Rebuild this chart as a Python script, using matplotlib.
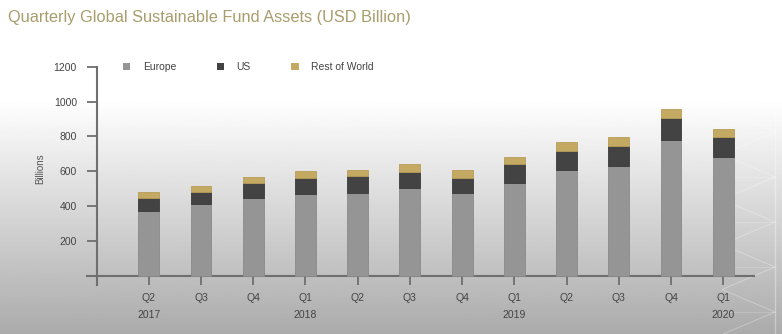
import numpy as np
import matplotlib
matplotlib.use("Agg")
import matplotlib.pyplot as plt
from matplotlib.patches import Patch

plt.rcParams['font.family'] = ['Liberation Sans', 'DejaVu Sans']

# ---- data (USD billion) ----
quarters = ["Q2", "Q3", "Q4", "Q1", "Q2", "Q3", "Q4", "Q1", "Q2", "Q3", "Q4", "Q1"]
years = ["2017", "", "", "2018", "", "", "", "2019", "", "", "", "2020"]
europe = [372, 410, 447, 470, 474, 502, 475, 533, 605, 628, 777, 682]
us = [73, 69, 84, 89, 97, 96, 84, 107, 113, 115, 128, 116]
rest_of_world = [38, 35, 38, 44, 34, 43, 48, 43, 48, 53, 55, 44]
series_names = ["Europe", "US", "Rest of World"]
yticks = [200, 400, 600, 800, 1000, 1200]

W, H = 782, 334
fig = plt.figure(figsize=(W / 100, H / 100), dpi=100)

# background gradient
bg = fig.add_axes([0, 0, 1, 1], zorder=-10)
yy = np.linspace(0, 1, 400)  # 0 top, 1 bottom
start = 100 / H
g = np.where(yy < start, 1.0, 1.0 - (yy - start) / (1 - start) * 0.33)
bg.imshow(np.repeat(g[:, None], 2, axis=1), cmap='gray', vmin=0, vmax=1,
          aspect='auto', extent=[0, 1, 0, 1])
bg.set_axis_off()

# decorative faint zigzag on the right
deco = fig.add_axes([0, 0, 1, 1], zorder=-9)
deco.set_xlim(0, W); deco.set_ylim(H, 0); deco.set_axis_off()
deco.patch.set_alpha(0)
zx, zy = [], []
for i in range(9):
    zx += [775, 722]
    zy += [i * 45 - 3, i * 45 + 19.5]
deco.plot(zx, zy, color='white', lw=0.7, alpha=0.3)
for i in range(8):
    deco.plot([722, 775], [i * 45 + 42, i * 45 + 42], color='white', lw=0.6, alpha=0.2)
deco.plot([775, 775], [0, H], color='white', lw=1.0, alpha=0.35)

left_px, right_px = 86.7, 754
top_px, bot_px = 66.7, 285
ax = fig.add_axes([left_px / W, 1 - bot_px / H, (right_px - left_px) / W, (bot_px - top_px) / H])
ax.patch.set_alpha(0)

x = np.arange(len(quarters))
wd = 0.4
europe_c = '#959595'
us_c = '#434343'
row_c = '#c4a963'
b1 = np.array(europe)
b2 = b1 + np.array(us)
ax.bar(x, europe, wd, color=europe_c, edgecolor='#8a8a8a', linewidth=0.6, zorder=3)
ax.bar(x, us, wd, bottom=b1, color=us_c, edgecolor='#3a3a3a', linewidth=0.6, zorder=3)
ax.bar(x, rest_of_world, wd, bottom=b2, color=row_c, edgecolor='#b89d58', linewidth=0.6, zorder=3)

ax.set_xlim(-1.19, 11.59)
ax.set_ylim(-52, 1200)

for s in ['top', 'right']:
    ax.spines[s].set_visible(False)
spine_c = '#6f6f6f'
ax.spines['left'].set_position(('data', -1.0))
ax.spines['bottom'].set_position(('data', 0))
ax.spines['left'].set_color(spine_c)
ax.spines['bottom'].set_color(spine_c)
ax.spines['left'].set_linewidth(1.5)
ax.spines['bottom'].set_linewidth(1.5)

ax.set_yticks(yticks)
ax.set_yticklabels([str(v) for v in yticks])
ax.tick_params(axis='y', length=7.2, width=1.3, color=spine_c, pad=7,
               labelsize=7.5, labelcolor='#444444')
ax.set_xticks(x)
ax.set_xticklabels([q + ("\n" + y if y else "") for q, y in zip(quarters, years)],
                   linespacing=1.9)
ax.tick_params(axis='x', length=6.5, width=1.3, color=spine_c, pad=6,
               labelsize=7.5, labelcolor='#444444')
for lbl in ax.get_xticklabels():
    lbl.set_verticalalignment('top')

fig.text(40 / W, 1 - 169 / H, "Billions", rotation=90, ha='center', va='center',
         fontsize=7, color='#555555')

fig.text(8 / W, 1 - 17.5 / H, "Quarterly Global Sustainable Fund Assets (USD Billion)",
         ha='left', va='center', fontsize=11.75, color='#a89d6c')

handles = [Patch(facecolor=c, edgecolor='none') for c in [europe_c, us_c, row_c]]
fig.legend(handles, series_names, loc='center left',
           bbox_to_anchor=(123 / W, 1 - 67 / H), ncol=3, frameon=False,
           fontsize=7.5, handlelength=0.7, handleheight=0.7, handletextpad=1.2,
           columnspacing=3.9, borderpad=0, borderaxespad=0, labelcolor='#444444')

fig.savefig("out.png", dpi=100)
